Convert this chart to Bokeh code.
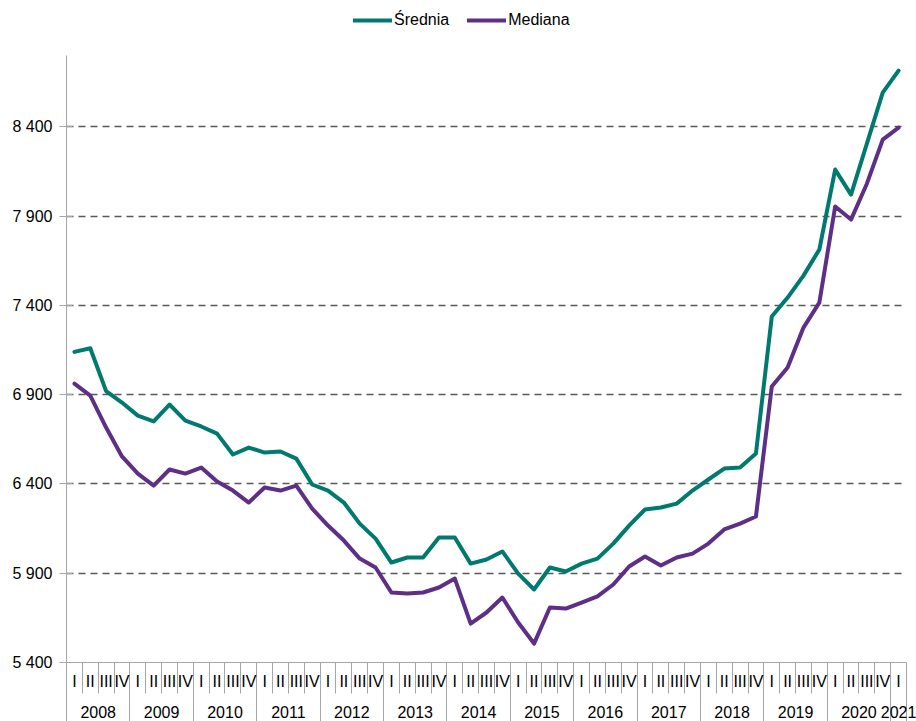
from bokeh.plotting import figure
from bokeh.models import Range1d, LinearAxis, FixedTicker, Legend, LegendItem
from bokeh.embed import file_html
from bokeh.resources import INLINE

# ---- data ----
years = [2008, 2009, 2010, 2011, 2012, 2013, 2014, 2015, 2016, 2017, 2018, 2019, 2020, 2021]
quarters = ["I", "II", "III", "IV"]
n_quarters_last_year = 1

srednia = [7140, 7160, 6920, 6856,
           6783, 6750, 6845, 6755,
           6722, 6682, 6565, 6604,
           6576, 6582, 6542, 6397,
           6363, 6296, 6178, 6094,
           5960, 5988, 5988, 6100,
           6100, 5954, 5977, 6022,
           5898, 5809, 5932, 5910,
           5954, 5982, 6066, 6167,
           6257, 6268, 6290, 6363,
           6425, 6486, 6492, 6570,
           7338, 7444, 7567, 7713,
           8161, 8021, 8306, 8592,
           8715]
mediana = [6962, 6895, 6716, 6554,
           6458, 6391, 6481, 6458,
           6492, 6414, 6363, 6296,
           6380, 6363, 6391, 6262,
           6167, 6083, 5982, 5932,
           5792, 5786, 5792, 5820,
           5870, 5618, 5680, 5764,
           5624, 5506, 5708, 5702,
           5736, 5770, 5837, 5938,
           5994, 5943, 5988, 6010,
           6066, 6145, 6178, 6218,
           6946, 7052, 7276, 7416,
           7954, 7881, 8082, 8329,
           8396]
y_ticks = [5400, 5900, 6400, 6900, 7400, 7900, 8400]
y_min, y_max = 5400, 8800
series_names = ["Średnia", "Mediana"]

TEAL = "#007A6E"
PURPLE = "#5E2F86"
AXIS_GRAY = "#A6A6A6"
GRID_GRAY = "#595959"
FONT = "Liberation Sans"

# ---- layout (pixels) ----
W, H = 916, 721
LEFT, RIGHT, BOTTOM = 66, 10, 59
AXIS_TOP_PX = 55          # where the value axis ends (y_max)
FRAME_H = H - BOTTOM      # frame spans from canvas top to the category axis
AXIS_H = FRAME_H - AXIS_TOP_PX
y_end = y_max + (y_max - y_min) * AXIS_TOP_PX / AXIS_H

# ---- derived positions (category slots) ----
periods = []
for y in years:
    qs = quarters if y != years[-1] else quarters[:n_quarters_last_year]
    for q in qs:
        periods.append((y, q))
n = len(periods)
xs = [i + 0.5 for i in range(n)]

year_bounds = []
year_centers = {}
start = 0
for y in years:
    cnt = sum(1 for pp in periods if pp[0] == y)
    year_bounds.append(start)
    year_centers[start + cnt / 2] = str(y)
    start += cnt
year_bounds.append(start)

p = figure(width=W, height=H, output_backend="svg", toolbar_location=None,
           x_range=Range1d(0, n), y_range=Range1d(y_min, y_end),
           min_border_left=LEFT, min_border_right=RIGHT, min_border_top=0, min_border_bottom=BOTTOM,
           x_axis_location=None)
p.outline_line_color = None
p.background_fill_color = "white"

# y axis
ya = p.yaxis[0]
ya.bounds = (y_min, y_max)
ya.ticker = FixedTicker(ticks=y_ticks, minor_ticks=[])
ya.major_label_overrides = {v: f"{v:,}".replace(",", " ") for v in y_ticks}
ya.axis_line_color = AXIS_GRAY
ya.major_tick_line_color = AXIS_GRAY
ya.major_tick_out = 7
ya.major_tick_in = 6
ya.minor_tick_line_color = None
ya.major_label_standoff = 7
ya.major_label_text_font = FONT
ya.major_label_text_font_size = "16px"
ya.major_label_text_color = "#000000"

# grid
p.xgrid.visible = False
p.ygrid.ticker = FixedTicker(ticks=y_ticks[1:])
p.ygrid.grid_line_color = GRID_GRAY
p.ygrid.grid_line_width = 1.5
p.ygrid.grid_line_dash = "7 5"

# quarter axis
qa = LinearAxis(ticker=FixedTicker(ticks=xs, minor_ticks=list(range(n + 1))),
                major_label_overrides={xs[i]: periods[i][1] for i in range(n)})
qa.axis_line_color = AXIS_GRAY
qa.major_tick_line_color = None
qa.major_tick_out = 0
qa.major_tick_in = 0
qa.minor_tick_line_color = AXIS_GRAY
qa.minor_tick_out = 31
qa.minor_tick_in = 0
qa.major_label_standoff = -21
qa.major_label_text_font = FONT
qa.major_label_text_font_size = "16px"
qa.major_label_text_color = "#000000"
p.add_layout(qa, "below")

# year axis
ya2 = LinearAxis(ticker=FixedTicker(ticks=list(year_centers.keys()), minor_ticks=year_bounds),
                 major_label_overrides=year_centers)
ya2.axis_line_color = None
ya2.major_tick_line_color = None
ya2.major_tick_out = 0
ya2.major_tick_in = 0
ya2.minor_tick_line_color = AXIS_GRAY
ya2.minor_tick_out = 31
ya2.minor_tick_in = 0
ya2.major_label_standoff = -18
ya2.major_label_text_font = FONT
ya2.major_label_text_font_size = "16px"
ya2.major_label_text_color = "#000000"
p.add_layout(ya2, "below")

r1 = p.line(xs, srednia, line_color=TEAL, line_width=4, line_join="round", line_cap="round")
r2 = p.line(xs, mediana, line_color=PURPLE, line_width=4, line_join="round", line_cap="round")

legend = Legend(items=[LegendItem(label=series_names[0], renderers=[r1]),
                       LegendItem(label=series_names[1], renderers=[r2])],
                location=(287, FRAME_H - 29), orientation="horizontal",
                glyph_width=39, glyph_height=16, label_height=16, label_standoff=2,
                spacing=18, padding=0, margin=0,
                border_line_color=None, background_fill_alpha=0,
                label_text_font=FONT, label_text_font_size="16px", label_text_color="#000000")
p.add_layout(legend)

open("out.html", "w").write(file_html(p, INLINE))
